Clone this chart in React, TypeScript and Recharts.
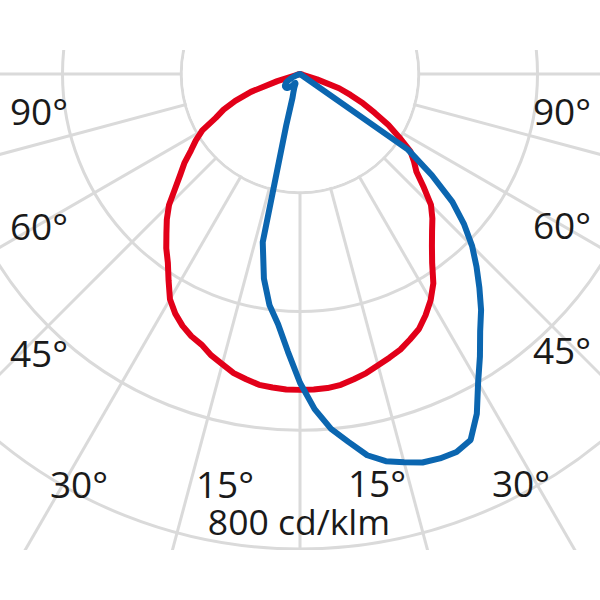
import React from 'react';
import { RadarChart, Radar, PolarGrid, PolarAngleAxis, PolarRadiusAxis } from 'recharts';

// Polar angle (gamma, degrees from nadir; negative = left half, positive = right half)
const GAMMA = [
  -90, -80, -75, -72.5, -70, -67.5, -65, -62.5, -60, -57.5, -55, -52.5, -50, -47.5, -45, -42.5,
  -40, -37.5, -35, -32.5, -30, -27.5, -25, -22.5, -20, -17.5, -15, -12.5, -10, -7.5, -5, -2.5,
  0, 2.5, 5, 7.5, 10, 12.5, 15, 17.5, 20, 22.5, 25, 27.5, 30, 32.5, 35, 37.5,
  40, 42.5, 45, 47.5, 50, 52.5, 55, 57.5, 60, 62.5, 65, 67.5, 70, 72.5, 75, 80, 90,
];

// Intensity, cd/klm (red plane)
const RED = [
  0, 0, 5, 40, 88, 118, 142, 160, 190, 208, 224, 245, 263, 285, 312, 332,
  350, 370, 388, 412, 438, 455, 468, 478, 485, 497, 506, 516, 522, 528, 530, 532,
  532, 532, 531, 528, 522, 516, 508, 501, 494, 484, 474, 458, 440, 418, 388, 365,
  346, 330, 312, 283, 256, 242, 227, 198, 172, 142, 117, 92, 70, 30, 5, 0, 0,
];

// Intensity, cd/klm (blue plane)
const BLUE = [
  0, 0, 0, 2, 5, 10, 15, 20, 25, 28, 30, 32, 33, 33, 33, 32,
  30, 27, 25, 22, 18, 17, 18, 25, 32, 42, 90, 290, 350, 393, 423, 468,
  520, 565, 600, 625, 652, 668, 677, 686, 689, 689, 680, 645, 600, 564, 529, 501,
  470, 440, 410, 375, 335, 280, 222, 0, 0, 0, 0, 0, 0, 0, 0, 0, 0,
];

const RING_VALUES = [200, 400, 600, 800];
const RADIUS_MAX = 1200;
const GRID_STEP_DEG = 15;

const ANGLE_LABELS = [
  { text: '90°', x: 39, y: 125 },
  { text: '90°', x: 562, y: 125 },
  { text: '60°', x: 39, y: 240 },
  { text: '60°', x: 562, y: 239 },
  { text: '45°', x: 39, y: 367 },
  { text: '45°', x: 562, y: 364 },
  { text: '30°', x: 79, y: 498 },
  { text: '15°', x: 225, y: 498 },
  { text: '15°', x: 377, y: 497 },
  { text: '30°', x: 521, y: 497 },
];
const UNIT_LABEL = { text: '800 cd/klm', x: 299, y: 535 };

const W = 600;
const H = 500;
const TOP = 50;
const CX = 300;
const CY = 24;
const OUTER = 712.5;
const PX_PER_UNIT = OUTER / RADIUS_MAX;

const data = GAMMA.map((g, i) => ({ gamma: g, red: RED[i], blue: BLUE[i] }));
const gridAngles = Array.from({ length: 360 / GRID_STEP_DEG }, (_, i) => i * GRID_STEP_DEG);
const gridRadii = RING_VALUES.map((v) => v * PX_PER_UNIT);

const GRID_COLOR = '#dadada';
const RED_COLOR = '#e20019';
const BLUE_COLOR = '#0b66b0';
const TEXT_COLOR = '#1a1a1a';
const FONT = "'Open Sans', 'Noto Sans', sans-serif";

function Base({ children }: { children: React.ReactNode }) {
  return (
    <RadarChart
      width={W}
      height={H}
      data={data}
      cx={CX}
      cy={CY}
      innerRadius={0}
      outerRadius={OUTER}
      startAngle={-270}
      endAngle={90}
      margin={{ top: 0, right: 0, bottom: 0, left: 0 }}
    >
      <PolarAngleAxis dataKey="gamma" type="number" domain={[-180, 180]} tick={false} axisLine={false} />
      <PolarRadiusAxis domain={[0, RADIUS_MAX]} tick={false} axisLine={false} />
      {children}
    </RadarChart>
  );
}

export default function App() {
  return (
    <div style={{ position: 'absolute', left: 0, top: 0, width: 600, height: 600, background: '#fff' }}>
      <div style={{ position: 'absolute', left: 0, top: TOP, width: W, height: H, overflow: 'hidden' }}>
        <Base>
          <PolarGrid
            gridType="circle"
            polarAngles={gridAngles}
            polarRadius={gridRadii}
            stroke={GRID_COLOR}
            strokeWidth={3}
          />
        </Base>
      </div>
      <svg style={{ position: 'absolute', left: 0, top: TOP }} width={W} height={H}>
        <circle cx={CX} cy={CY} r={gridRadii[0] - 1.5} fill="#fff" />
      </svg>
      <svg style={{ position: 'absolute', left: 0, top: 0 }} width={600} height={600}>
        {ANGLE_LABELS.map((l, i) => (
          <text key={i} x={l.x} y={l.y} textAnchor="middle" fontFamily={FONT} fontSize={37} fill={TEXT_COLOR}>
            {l.text}
          </text>
        ))}
        <text x={UNIT_LABEL.x} y={UNIT_LABEL.y} textAnchor="middle" fontFamily={FONT} fontSize={35.5} fill={TEXT_COLOR}>
          {UNIT_LABEL.text}
        </text>
      </svg>
      <div style={{ position: 'absolute', left: 0, top: TOP, width: W, height: H, overflow: 'hidden' }}>
        <Base>
          <Radar
            dataKey="red"
            stroke={RED_COLOR}
            strokeWidth={6}
            fill="none"
            fillOpacity={0}
            dot={false}
            strokeLinejoin="round"
            isAnimationActive={false}
          />
          <Radar
            dataKey="blue"
            stroke={BLUE_COLOR}
            strokeWidth={6}
            fill="none"
            fillOpacity={0}
            dot={false}
            strokeLinejoin="round"
            isAnimationActive={false}
          />
        </Base>
      </div>
    </div>
  );
}
